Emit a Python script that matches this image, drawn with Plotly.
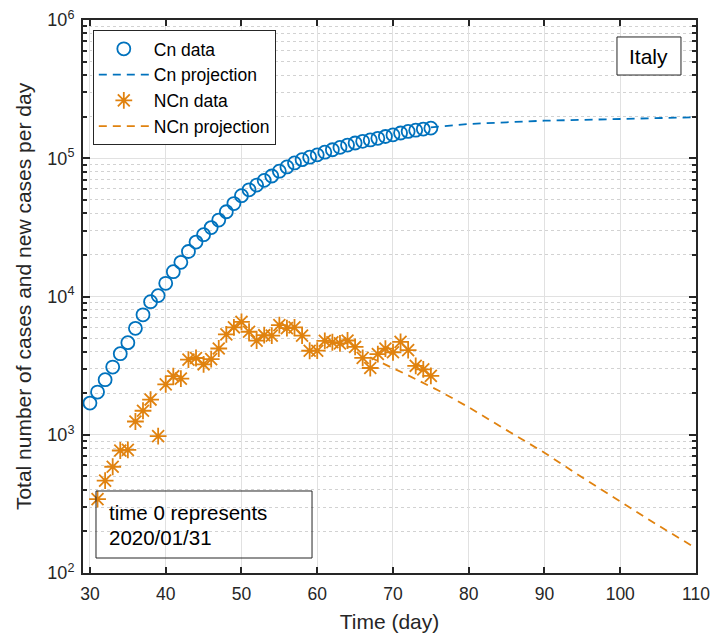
import plotly.graph_objects as go

# ---------------- data ----------------
days_cn = list(range(30, 76))
cn_data = [1694, 2036, 2502, 3089, 3858, 4636, 5883, 7375, 9172, 10149,
           12462, 15113, 17660, 21157, 24747, 27980, 31506, 35713, 41035, 47021,
           53578, 59138, 63927, 69176, 74386, 80589, 86498, 92472, 97689, 101739,
           105792, 110574, 115242, 119827, 124632, 128948, 132547, 135586, 139422, 143626,
           147577, 152271, 156363, 159516, 162488, 165155]

days_ncn = list(range(31, 76))
ncn_data = [342, 466, 587, 769, 778, 1247, 1492, 1797, 977, 2313,
            2651, 2547, 3497, 3590, 3233, 3526, 4207, 5322, 5986, 6557,
            5560, 4789, 5249, 5210, 6203, 5909, 5974, 5217, 4050, 4053,
            4782, 4668, 4585, 4805, 4316, 3599, 3039, 3836, 4204, 3951,
            4694, 4092, 3153, 2972, 2667]

days_cn_proj = [75, 77, 80, 85, 90, 95, 100, 105, 110]
cn_proj = [167000, 171000, 177000, 182000, 187000, 189500, 191500, 194500, 198000]

days_ncn_proj = [67, 68, 70, 72, 74, 76, 78, 80, 85, 90, 95, 100, 105, 110]
ncn_proj = [3630, 3430, 3030, 2690, 2380, 2090, 1820, 1580, 1080, 741, 490, 328, 221, 151]

x_ticks = [30, 40, 50, 60, 70, 80, 90, 100, 110]
y_ticks = [1e2, 1e3, 1e4, 1e5, 1e6]
y_tick_text = ["10<sup>2</sup>", "10<sup>3</sup>", "10<sup>4</sup>", "10<sup>5</sup>", "10<sup>6</sup>"]
y_minor = [m * 10 ** k for k in range(2, 6) for m in range(2, 10)]

# ---------------- style ----------------
BLUE = "#0072BD"
ORANGE = "#E0820F"
AX = "#262626"
FONT = "Liberation Sans"

fig = go.Figure()
fig.add_trace(go.Scatter(
    x=days_cn, y=cn_data, mode="markers", name="Cn data",
    marker=dict(symbol="circle-open", size=13, color=BLUE, line=dict(width=1.8, color=BLUE))))
fig.add_trace(go.Scatter(
    x=days_cn_proj, y=cn_proj, mode="lines", name="Cn projection",
    line=dict(color=BLUE, width=1.8, dash="8px,6px")))
fig.add_trace(go.Scatter(
    x=days_ncn, y=ncn_data, mode="markers", name="NCn data",
    marker=dict(symbol="asterisk-open", size=14, color=ORANGE, line=dict(width=1.8, color=ORANGE))))
fig.add_trace(go.Scatter(
    x=days_ncn_proj, y=ncn_proj, mode="lines", name="NCn projection",
    line=dict(color=ORANGE, width=1.8, dash="8px,6px")))

fig.update_layout(
    width=712, height=637,
    margin=dict(l=83, r=16, t=20, b=64, autoexpand=False),
    paper_bgcolor="white", plot_bgcolor="white",
    font=dict(family=FONT, color=AX, size=17),
    showlegend=True,
    legend=dict(
        x=0.016, y=0.982, xanchor="left", yanchor="top",
        bordercolor=AX, borderwidth=1, bgcolor="white",
        font=dict(size=17.5, family=FONT, color="black"),
        itemwidth=50, tracegroupgap=0,
    ),
    xaxis=dict(
        range=[29.08, 110], tickvals=x_ticks, ticks="inside", ticklen=6,
        tickcolor=AX, tickwidth=1.5, automargin=False, ticklabelstandoff=4,
        ticklabeloverflow="allow",
        showline=True, linecolor=AX, linewidth=2, mirror="allticks",
        showgrid=True, gridcolor="#e1e1e1", gridwidth=1, zeroline=False,
        tickfont=dict(size=17.5, family=FONT, color=AX),
        title=dict(text="Time (day)", font=dict(size=21, family=FONT, color=AX), standoff=11),
    ),
    yaxis=dict(
        type="log", range=[2, 6], tickmode="array", tickvals=y_ticks, ticktext=y_tick_text,
        ticks="inside", ticklen=7, tickcolor=AX, tickwidth=1.5, automargin=False,
        ticklabelstandoff=3, ticklabeloverflow="allow",
        showline=True, linecolor=AX, linewidth=2, mirror="allticks",
        showgrid=True, gridcolor="#e1e1e1", gridwidth=1, zeroline=False,
        tickfont=dict(size=18, family=FONT, color=AX),
        title=dict(text="Total number of cases and new cases per day",
                   font=dict(size=21, family=FONT, color=AX), standoff=10),
        minor=dict(tickmode="array", tickvals=y_minor, ticks="inside", ticklen=4,
                   tickcolor=AX, tickwidth=1.5, showgrid=True, griddash="dot",
                   gridcolor="#d2d2d2", gridwidth=1),
    ),
    shapes=[
        dict(type="rect", xref="paper", yref="paper", x0=0.8711, x1=0.9755, y0=0.9005, y1=0.9693,
             line=dict(color=AX, width=1), fillcolor="white", layer="above"),
        dict(type="rect", xref="paper", yref="paper", x0=0.0212, x1=0.3736, y0=0.0271, y1=0.1483,
             line=dict(color=AX, width=1), fillcolor="rgba(0,0,0,0)", layer="above"),
    ],
    annotations=[
        dict(text="Italy", xref="paper", yref="paper", x=0.9233, y=0.9331,
             xanchor="center", yanchor="middle", showarrow=False,
             font=dict(size=21, family=FONT, color="black")),
        dict(text="time 0 represents", xref="paper", yref="paper",
             x=0.0392, y=0.1103, xanchor="left", yanchor="middle", showarrow=False,
             font=dict(size=20.5, family=FONT, color="black")),
        dict(text="2020/01/31", xref="paper", yref="paper",
             x=0.0392, y=0.0633, xanchor="left", yanchor="middle", showarrow=False,
             font=dict(size=20.5, family=FONT, color="black")),
    ],
)

fig.write_html("out.html", config={"displayModeBar": False},
               post_script="document.body.style.margin='0px';")
